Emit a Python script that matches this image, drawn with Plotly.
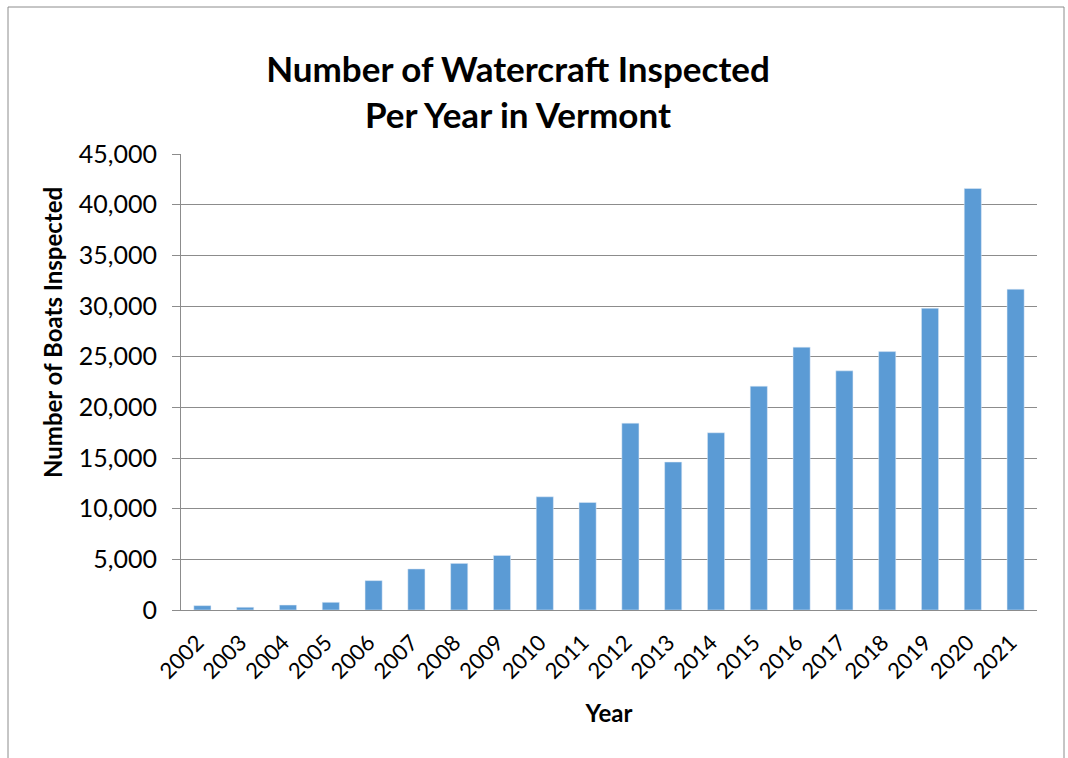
import plotly.graph_objects as go

years = [str(y) for y in range(2002, 2022)]
boats = [430, 270, 490, 760, 2900, 4050, 4600, 5390, 11170, 10620,
         18440, 14600, 17490, 22090, 25940, 23600, 25500, 29780, 41600, 31660]
y_ticks = [0, 5000, 10000, 15000, 20000, 25000, 30000, 35000, 40000, 45000]

FONT = "Lato, Carlito, Calibri, sans-serif"
GRAY = "#8c8c8c"

fig = go.Figure(go.Bar(x=years, y=boats, marker_color="#5B9BD5"))

L, R, T, B = 181, 31, 154, 148
W, H = 1068, 758
pw, ph = W - L - R, H - T - B

fig.update_layout(
    width=W, height=H,
    margin=dict(l=L, r=R, t=T, b=B),
    paper_bgcolor="white", plot_bgcolor="white",
    bargap=0.6,
    showlegend=False,
    font=dict(family=FONT, color="black"),
    title=dict(text="<b>Number of Watercraft Inspected<br>Per Year in Vermont</b>",
               x=518 / W, xanchor="center", xref="container",
               y=1 - 82 / H, yanchor="middle", yref="container",
               font=dict(family=FONT, size=35, color="black")),
    xaxis=dict(
        type="category",
        tickangle=-45,
        tickfont=dict(size=22),
        ticklabelstandoff=10,
        ticklabelshift=-5,
        showline=True, linecolor=GRAY, linewidth=1,
        ticks="", showgrid=False,
        title=dict(text="<b>Year</b>", font=dict(size=24), standoff=22),
    ),
    yaxis=dict(
        range=[0, 45000],
        tickvals=y_ticks,
        tickformat=",",
        tickfont=dict(size=25),
        showline=True, linecolor=GRAY, linewidth=1,
        ticks="outside", ticklen=8, tickcolor=GRAY,
        ticklabelstandoff=10,
        showgrid=True, gridcolor=GRAY, gridwidth=1,
        zeroline=False,
    ),
)

fig.add_annotation(text="<b>Number of Boats Inspected</b>", textangle=-90,
                   xref="paper", yref="paper",
                   x=(52 - L) / pw, y=(H - B - 333) / ph,
                   xanchor="center", yanchor="middle", showarrow=False,
                   font=dict(family=FONT, size=24, color="black"))

# outer chart border
fig.add_shape(type="rect", xref="paper", yref="paper",
              x0=(8 - L) / pw, x1=(1064 - L) / pw,
              y0=(H - B - 762) / ph, y1=(H - B - 7) / ph,
              line=dict(color=GRAY, width=1), fillcolor="rgba(0,0,0,0)", layer="below")

fig.write_html("out.html")
